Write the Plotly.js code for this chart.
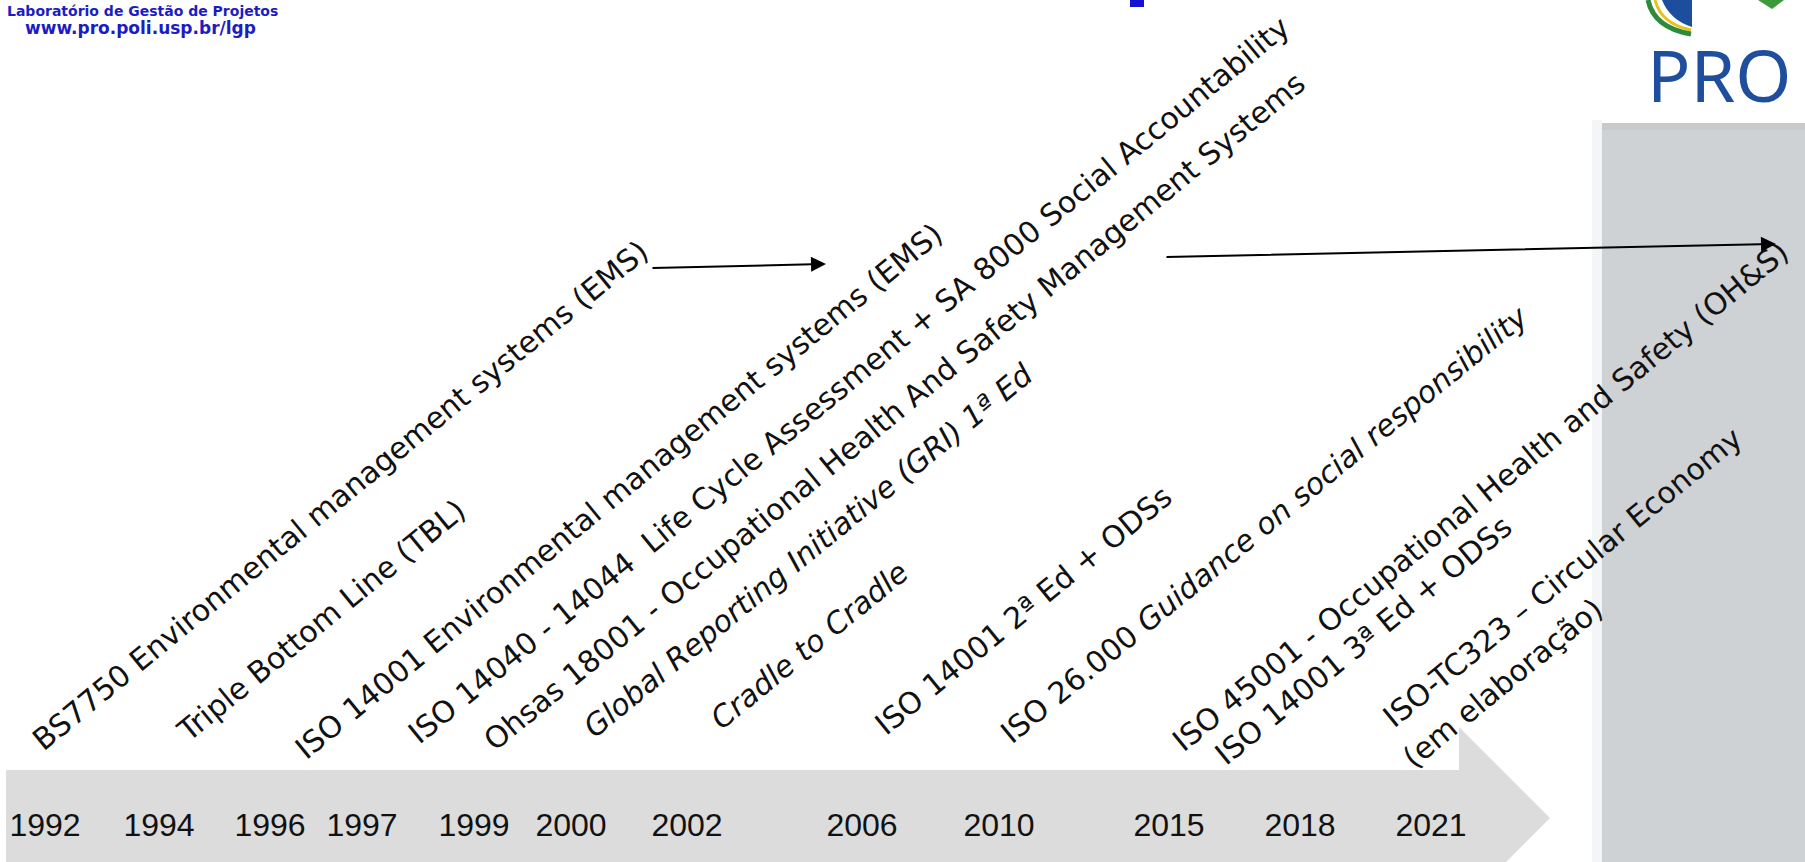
<!DOCTYPE html>
<html>
<head>
<meta charset="utf-8">
<script src="https://cdn.plot.ly/plotly-3.0.1.min.js"></script>
<style>
  html, body { margin: 0; padding: 0; background: #ffffff; overflow: hidden; }
  #chart { width: 1805px; height: 862px; }
</style>
</head>
<body>
<div id="chart"></div>
<script>
// ---- data ----
const years = ['1992', '1994', '1996', '1997', '1999', '2000', '2002', '2006', '2010', '2015', '2018', '2021'];

const events = [
  'BS7750 Environmental management systems (EMS)',
  'Triple Bottom Line (TBL)',
  'ISO 14001 Environmental management systems (EMS)',
  'ISO 14040 - 14044  Life Cycle Assessment + SA 8000 Social Accountability',
  'Ohsas 18001 - Occupational Health And Safety Management Systems',
  '<i>Global Reporting Initiative (GRI) 1ª Ed</i>',
  '<i>Cradle to Cradle</i>',
  'ISO 14001 2ª Ed + ODSs',
  'ISO 26.000 <i>Guidance on social responsibility</i>',
  'ISO 45001 - Occupational Health and Safety (OH&amp;S)',
  'ISO 14001 3ª Ed + ODSs',
  'ISO-TC323 – Circular Economy',
  '(em elaboração)'
];

const headerLines = ['Laboratório de Gestão de Projetos', 'www.pro.poli.usp.br/lgp'];
const logoText = 'PRO';

// ---- layout (positions in page pixels) ----
const yearX = [45, 159, 270, 362, 474, 571, 687, 862, 999, 1169, 1300, 1431];
const yearRowY = 828;
const eventX = [340, 321, 618, 848, 894, 808, 809, 1023, 1264, 1480, 1363, 1562, 1502];
const eventY = [495, 620, 491, 380, 411, 550, 645, 610, 524, 496, 640, 577, 683];
const labelAngle = -39.3;
const labelFont = '"Comic Sans MS", "DejaVu Sans", sans-serif';
const labelSize = 30;

const W = 1805, H = 862;

const traces = [{
  type: 'scatter',
  mode: 'text',
  x: yearX,
  y: years.map(() => yearRowY),
  text: years,
  textposition: 'middle center',
  textfont: { family: '"Liberation Sans", Arial, sans-serif', size: 32, color: '#111111' },
  hoverinfo: 'skip',
  showlegend: false,
  cliponaxis: false
}];

const annotations = events.map((t, i) => ({
  x: eventX[i], y: eventY[i], xref: 'x', yref: 'y',
  text: t, showarrow: false, textangle: labelAngle,
  xanchor: 'center', yanchor: 'middle',
  font: { family: labelFont, size: labelSize, color: '#111111' }
}));

// arrows
annotations.push({
  x: 826, y: 264, ax: 651, ay: 268, xref: 'x', yref: 'y', axref: 'x', ayref: 'y',
  text: '', showarrow: true, arrowhead: 2, arrowsize: 1.5, arrowwidth: 2, arrowcolor: '#000000', standoff: 0, startstandoff: 0
});
annotations.push({
  x: 1776, y: 244, ax: 1165, ay: 257, xref: 'x', yref: 'y', axref: 'x', ayref: 'y',
  text: '', showarrow: true, arrowhead: 2, arrowsize: 1.5, arrowwidth: 2, arrowcolor: '#000000', standoff: 0, startstandoff: 0
});

// header text (top-left)
annotations.push({
  x: 142, y: 11, xref: 'x', yref: 'y', text: '<b>' + headerLines[0] + '</b>', showarrow: false,
  xanchor: 'center', yanchor: 'middle', borderpad: 0,
  font: { family: '"DejaVu Sans", sans-serif', size: 14, color: '#1c1cc4' }
});
annotations.push({
  x: 140, y: 28, xref: 'x', yref: 'y', text: '<b>' + headerLines[1] + '</b>', showarrow: false,
  xanchor: 'center', yanchor: 'middle', borderpad: 0,
  font: { family: '"DejaVu Sans", sans-serif', size: 17, color: '#1c1cc4' }
});
// PRO logo
annotations.push({
  x: 1719, y: 74, xref: 'x', yref: 'y', text: logoText, showarrow: false,
  xanchor: 'center', yanchor: 'middle',
  font: { family: '"Noto Sans", "Open Sans", sans-serif', size: 72, color: '#1f4f9c' }
});

const shapes = [
  // right gray panel
  { type: 'rect', xref: 'x', yref: 'y', x0: 1592, x1: 1602, y0: 120, y1: H, fillcolor: '#f4f5f6', line: { width: 0 }, layer: 'below' },
  { type: 'rect', xref: 'x', yref: 'y', x0: 1602, x1: W, y0: 123, y1: H, fillcolor: '#cfd2d5', line: { width: 0 }, layer: 'below' },
  { type: 'rect', xref: 'x', yref: 'y', x0: 1602, x1: W, y0: 123, y1: 130, fillcolor: '#c9cacc', line: { width: 0 }, layer: 'below' },
  // timeline arrow band
  { type: 'path', xref: 'x', yref: 'y', path: 'M6,770 L1459,770 L1459,727 L1550,818 L1459,909 L1459,866 L6,866 Z',
    fillcolor: '#dcdcdc', line: { width: 0 }, layer: 'below' },
  // small blue fragment of the cut-off title
  { type: 'rect', xref: 'x', yref: 'y', x0: 1130, x1: 1144, y0: -2, y1: 7, fillcolor: '#1212d0', line: { width: 0 } },
  // shield logo fragments
  { type: 'path', xref: 'x', yref: 'y', path: 'M1662,0 L1692,0 L1692,27 Q1670,20 1662,0 Z', fillcolor: '#1d4e9e', line: { width: 0 } },
  { type: 'path', xref: 'x', yref: 'y', path: 'M1655,0 Q1661,24 1691,30', line: { color: '#e6c21b', width: 3 } },
  { type: 'path', xref: 'x', yref: 'y', path: 'M1648,0 Q1654,28 1691,34', line: { color: '#2f8a3b', width: 5 } },
  { type: 'path', xref: 'x', yref: 'y', path: 'M1758,0 L1784,0 L1772,9 Z', fillcolor: '#3c9a3c', line: { width: 0 } }
];

const layout = {
  width: W, height: H,
  margin: { l: 0, r: 0, t: 0, b: 0, pad: 0 },
  paper_bgcolor: '#ffffff', plot_bgcolor: '#ffffff',
  xaxis: { range: [0, W], visible: false, fixedrange: true },
  yaxis: { range: [H, 0], visible: false, fixedrange: true },
  showlegend: false,
  annotations: annotations,
  shapes: shapes
};

Plotly.newPlot('chart', traces, layout, { displayModeBar: false, staticPlot: true });
</script>
</body>
</html>
